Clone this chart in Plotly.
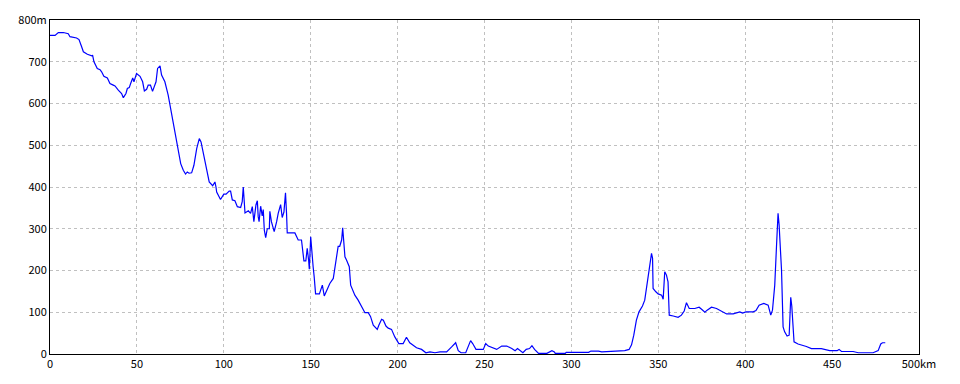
import plotly.graph_objects as go

km = [0, 2.9, 4.8, 7.7, 10.5, 11.5, 15.3, 16.7, 18.2, 19.2, 21.5, 24, 24.5, 25.3, 27.2, 28.8, 29.7,
      31, 33, 34.5, 36.4, 37.4, 39.3, 41.2, 42.2, 43.7, 44.5, 45.6, 46.4, 47.6, 48.3, 49.8, 51.8,
      53.3, 54.3, 55.6, 56.5, 57.8, 59, 61, 61.9, 63.3, 64.2, 66.1, 68, 70, 71.9, 73.8, 75.2, 76.7,
      78, 79, 80, 81.5, 82.8, 84.4, 85.9, 86.9, 88.6, 90.5, 91.6, 93.6, 94.9, 95.5, 95.9, 98.1,
      100, 101.3, 103.1, 103.9, 104.9, 106.4, 107.8, 109.7, 110.6, 111.2, 112.2, 114.1, 115.4,
      116.4, 117.3, 118.5, 119.3, 119.8, 120.3, 121.2, 122.1, 122.7, 123.3, 124.1, 125, 126.2,
      126.5, 127.4, 128, 129, 130.4, 131.3, 132.7, 133.6, 134.6, 135.2, 135.5, 136.1, 136.5,
      140.9, 142.8, 144.7, 145.3, 146.1, 147.2, 148, 148.8, 149.2, 150, 150.5, 151, 151.4, 152,
      152.8, 155, 156.7, 157.8, 159.5, 161, 163, 164.3, 165.8, 166.7, 167.8, 168.4, 169.7, 170.6,
      172.2, 173, 175.4, 177.3, 179.3, 181.2, 183.1, 184.4, 186, 188.3, 189.2, 190.8, 191.8,
      193.3, 194.6, 196.5, 198.4, 200.7, 203.2, 205.1, 207, 210.9, 213.8, 216.3, 218.6, 221.5,
      224.4, 228.2, 231.1, 233.4, 234.9, 236.5, 239.2, 242, 243.2, 245.1, 249.3, 250.7, 252.2,
      255.1, 257, 259.9, 262.8, 265.7, 267.6, 269, 272.1, 274, 275.9, 277.3, 278.8, 281.1,
      285.9, 288.8, 290.2, 290.7, 296.5, 297, 309.9, 311.2, 315.6, 317.5, 326.9, 330.7, 333.2,
      334.6, 335.9, 337.4, 338.9, 340.9, 342.2, 343.2, 344.7, 345.5, 346.1, 346.7, 347, 348.6,
      349.9, 351.9, 352.8, 353.7, 354.7, 355.6, 356.3, 358.6, 361.4, 363.3, 364.9, 366.2, 367.8,
      371, 373.5, 374.9, 376.8, 378.1, 380.6, 383.5, 386.4, 389.3, 393.1, 396, 396.9, 398.5,
      400.4, 404.6, 406.2, 408, 410.7, 413.2, 414.7, 415.7, 417, 418, 418.9, 419.5, 420.3, 420.9,
      421.8, 422.7, 424.1, 425.3, 426.2, 426.8, 428.1, 430.4, 435.2, 438.1, 443.8, 448.6, 452.9,
      454, 455.4, 462.1, 465, 471.7, 473.6, 476.5, 478, 479, 480.6]
elev = [763, 763, 770, 770, 767, 760, 757, 753, 736, 724, 718, 714, 716, 700, 684, 681, 676,
        665, 661, 648, 644, 642, 632, 624, 614, 624, 636, 638, 648, 661, 652, 672, 665,
        652, 630, 634, 644, 644, 629, 652, 684, 690, 668, 652, 620, 576, 532, 496, 456, 440,
        431, 436, 433, 434, 452, 492, 516, 508, 472, 436, 412, 403, 412, 400, 388, 370,
        383, 383, 390, 390, 369, 367, 353, 351, 365, 400, 338, 343, 337,
        353, 317, 357, 367, 329, 317, 354, 331, 346, 297, 279, 300, 300,
        342, 317, 306, 293, 317, 337, 358, 327, 340, 371, 386, 337, 290,
        290, 273, 273, 249, 223, 223, 253, 225, 203, 281, 246, 225, 209, 185,
        144, 144, 165, 139, 153, 169, 181, 217, 258, 258, 273, 302, 233, 225,
        209, 165, 141, 129, 115, 99, 99, 90, 69, 59, 69, 83, 81,
        67, 62, 59, 41, 25, 25, 40, 27, 15, 11, 3, 5, 3,
        5, 5, 17, 27, 8, 3, 3, 32, 25, 11, 11, 25, 19,
        15, 11, 19, 19, 13, 8, 13, 3, 11, 13, 20, 11, 1.5,
        1.5, 8, 5, 1.5, 1.5, 4, 4, 7, 7, 5, 6, 8, 11,
        22, 45, 81, 101, 115, 129, 157, 205, 229, 241, 229, 157, 149,
        144, 141, 131, 197, 189, 173, 93, 91, 88, 93, 103, 123, 109,
        109, 112, 107, 100, 105, 112, 109, 103, 96, 96, 99, 101, 98,
        101, 101, 104, 117, 121, 117, 93, 105, 165, 257, 337, 310, 257, 201,
        65, 53, 43, 45, 136, 115, 29, 24, 18, 13, 13, 8, 8,
        11, 6, 6, 3, 3, 3, 8, 24, 27, 27]

x_ticks = [0, 50, 100, 150, 200, 250, 300, 350, 400, 450, 500]
x_labels = ["0", "50", "100", "150", "200", "250", "300", "350", "400", "450", "500km"]
y_ticks = [0, 100, 200, 300, 400, 500, 600, 700, 800]
y_labels = ["0", "100", "200", "300", "400", "500", "600", "700", "800m"]

fig = go.Figure()
fig.add_trace(go.Scatter(x=km, y=elev, mode="lines",
                         line=dict(color="#0000ff", width=1.2), hoverinfo="skip"))

font = dict(family="Noto Sans CJK JP, DejaVu Sans", size=11, color="black")
axis_common = dict(showgrid=True, gridcolor="#c0c0c0", griddash="3px,3px", gridwidth=1,
                   showline=True, linecolor="black", linewidth=1, mirror=True,
                   zeroline=False, ticks="", tickfont=font)

fig.update_layout(
    width=960, height=384,
    margin=dict(l=50, r=41, t=20, b=30),
    paper_bgcolor="white", plot_bgcolor="white",
    showlegend=False,
    xaxis=dict(range=[0, 500], tickvals=x_ticks, ticktext=x_labels, **axis_common),
    yaxis=dict(range=[0, 800], tickvals=y_ticks, ticktext=y_labels, **axis_common),
)

fig.write_html("out.html")
